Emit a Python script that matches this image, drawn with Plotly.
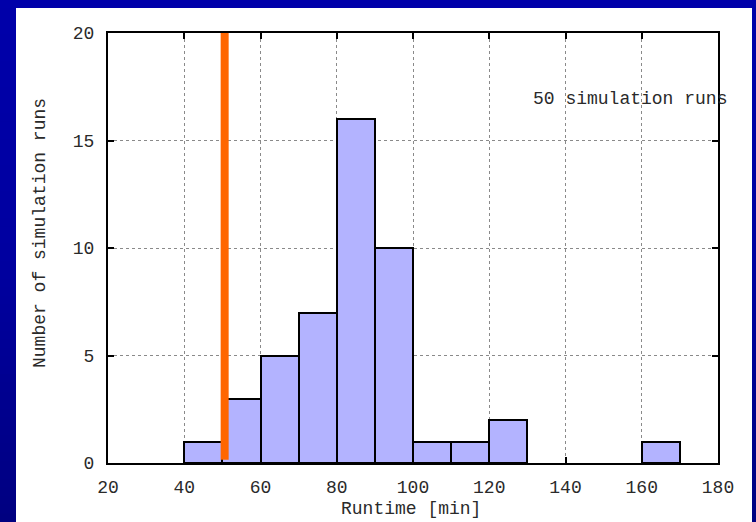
import plotly.graph_objects as go

# ---- data ----
bin_starts = [40, 50, 60, 70, 80, 90, 100, 110, 120, 160]
counts = [1, 3, 5, 7, 16, 10, 1, 1, 2, 1]
bin_width = 10
threshold_x = 50.6
threshold_y = [0.15, 20.25]
x_ticks = [20, 40, 60, 80, 100, 120, 140, 160, 180]
y_ticks = [0, 5, 10, 15, 20]
note_text = "50 simulation runs"
x_title = "Runtime [min]"
y_title = "Number of simulation runs"

W, H = 756, 522
L, R, T, B = 108, 718, 33, 463  # plot area in px


def px_x(p):
    return (p - L) / (R - L)


def px_y(p):
    return (B - p) / (B - T)


FONT = dict(family="Liberation Mono, Courier New, monospace", size=18, color="#2a2a2a")

fig = go.Figure()

centers = [s + bin_width / 2 for s in bin_starts]
fig.add_trace(go.Bar(
    x=centers, y=counts, width=[bin_width] * len(counts),
    marker=dict(color="#B3B3FF", line=dict(color="#000000", width=2)),
    hoverinfo="x+y", showlegend=False,
))
fig.add_trace(go.Scatter(
    x=[threshold_x, threshold_x], y=threshold_y, mode="lines",
    line=dict(color="#FF6600", width=8), cliponaxis=False, showlegend=False,
))

# background gradient (vertical) + white panel
shapes = []
n = 60
def blue_at(py):
    if py <= 260:
        v = 170 + (160 - 170) * py / 260
    else:
        v = 160 + (128 - 160) * (py - 260) / (522 - 260)
    return int(round(v))

for i in range(n):
    p0 = i * H / n
    p1 = (i + 1) * H / n + 1
    shapes.append(dict(
        type="rect", xref="paper", yref="paper", layer="below",
        x0=px_x(-5), x1=px_x(W + 5), y0=px_y(p1), y1=px_y(p0),
        fillcolor=f"rgb(0,0,{blue_at((p0 + p1) / 2)})", line=dict(width=0),
    ))
shapes.append(dict(
    type="rect", xref="paper", yref="paper", layer="below",
    x0=px_x(16), x1=px_x(752), y0=px_y(H + 5), y1=px_y(8),
    fillcolor="#FFFFFF", line=dict(width=0),
))

axis_common = dict(
    showline=True, linecolor="#000000", linewidth=2, mirror="ticks",
    ticks="inside", ticklen=6, tickcolor="#000000", tickwidth=2,
    showgrid=True, gridcolor="#8a8a8a", griddash="dot", gridwidth=1,
    zeroline=False, tickfont=FONT,
)

fig.update_layout(
    width=W, height=H,
    margin=dict(l=L, r=W - R, t=T, b=H - B),
    paper_bgcolor="rgb(0,0,160)", plot_bgcolor="#FFFFFF",
    shapes=shapes,
    bargap=0,
    xaxis=dict(range=[20, 180], tickvals=x_ticks, ticklabelstandoff=6, **axis_common),
    yaxis=dict(range=[0, 20], tickvals=y_ticks, ticklabelstandoff=8, **axis_common),
    annotations=[
        dict(text=note_text, xref="paper", yref="paper", x=px_x(729), y=px_y(99),
             xanchor="right", yanchor="middle", showarrow=False, font=FONT),
        dict(text=x_title, xref="paper", yref="paper", x=px_x(411), y=px_y(509),
             xanchor="center", yanchor="middle", showarrow=False, font=FONT),
        dict(text=y_title, xref="paper", yref="paper", x=px_x(40), y=px_y(233),
             xanchor="center", yanchor="middle", textangle=-90, showarrow=False, font=FONT),
    ],
)

fig.write_html("out.html")
